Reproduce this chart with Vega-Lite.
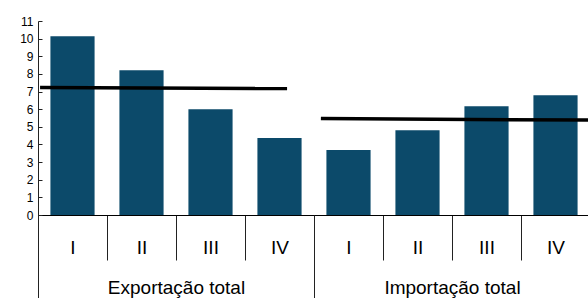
{
  "$schema": "https://vega.github.io/schema/vega-lite/v6.json",
  "width": 552,
  "height": 194,
  "autosize": {"type": "none"},
  "padding": {"left": 38, "top": 21, "right": 0, "bottom": 83},
  "config": {
    "view": {"stroke": null},
    "font": "Liberation Sans",
    "axis": {"domainColor": "#222", "tickColor": "#222", "labelColor": "#000", "grid": false}
  },
  "datasets": {
    "barras": [
      {"serie": "Exportação total", "trimestre": "I", "valor": 10.13},
      {"serie": "Exportação total", "trimestre": "II", "valor": 8.21},
      {"serie": "Exportação total", "trimestre": "III", "valor": 6.0},
      {"serie": "Exportação total", "trimestre": "IV", "valor": 4.36},
      {"serie": "Importação total", "trimestre": "I", "valor": 3.68},
      {"serie": "Importação total", "trimestre": "II", "valor": 4.81},
      {"serie": "Importação total", "trimestre": "III", "valor": 6.17},
      {"serie": "Importação total", "trimestre": "IV", "valor": 6.79}
    ],
    "medias": [
      {"serie": "Exportação total", "pos": 0.03, "valor": 7.23},
      {"serie": "Exportação total", "pos": 3.61, "valor": 7.17},
      {"serie": "Importação total", "pos": 4.1, "valor": 5.47},
      {"serie": "Importação total", "pos": 8.0, "valor": 5.38}
    ],
    "grupos": [
      {"serie": "Exportação total"},
      {"serie": "Importação total"}
    ]
  },
  "layer": [
    {
      "data": {"name": "barras"},
      "transform": [{"calculate": "datum.serie + '|' + datum.trimestre", "as": "chave"}],
      "mark": {"type": "bar", "color": "#0c4a6a", "width": {"band": 0.64}},
      "encoding": {
        "x": {
          "field": "chave", "type": "nominal", "sort": null,
          "scale": {"padding": 0},
          "axis": {
            "title": null, "orient": "bottom", "labelExpr": "split(datum.label, '|')[1]", "labelAngle": 0,
            "tickBand": "extent", "tickSize": 45, "labelFontSize": 19,
            "labelBaseline": "middle", "labelPadding": -13, "domainColor": "#000"
          }
        },
        "y": {
          "field": "valor", "type": "quantitative",
          "scale": {"domain": [0, 11], "nice": false},
          "axis": {
            "title": null, "values": [0, 1, 2, 3, 4, 5, 6, 7, 8, 9, 10, 11],
            "tickSize": -4, "labelFontSize": 12, "labelPadding": 9, "domain": true, "domainColor": "#222", "labelColor": "#000"
          }
        }
      }
    },
    {
      "data": {"name": "medias"},
      "mark": {"type": "line", "color": "#000", "strokeWidth": 3.5},
      "encoding": {
        "x": {"field": "pos", "type": "quantitative", "scale": {"domain": [0, 8], "nice": false, "zero": false}, "axis": null},
        "y": {
          "field": "valor", "type": "quantitative",
          "scale": {"domain": [0, 11], "nice": false},
          "axis": {
            "title": null, "values": [0, 1, 2, 3, 4, 5, 6, 7, 8, 9, 10, 11],
            "tickSize": -4, "labelFontSize": 12, "labelPadding": 9, "domain": true, "domainColor": "#222", "labelColor": "#000"
          }
        },
        "detail": {"field": "serie"}
      }
    },
    {
      "data": {"name": "grupos"},
      "mark": {"type": "text", "text": ""},
      "encoding": {
        "x": {
          "field": "serie", "type": "nominal",
          "scale": {"padding": 0},
          "axis": {
            "title": null, "orient": "bottom", "labelAngle": 0, "tickBand": "extent", "tickSize": 90,
            "labelFontSize": 19, "labelPadding": -27, "labelBaseline": "top", "domain": false
          }
        }
      }
    }
  ],
  "resolve": {"scale": {"x": "independent"}, "axis": {"x": "independent"}}
}
